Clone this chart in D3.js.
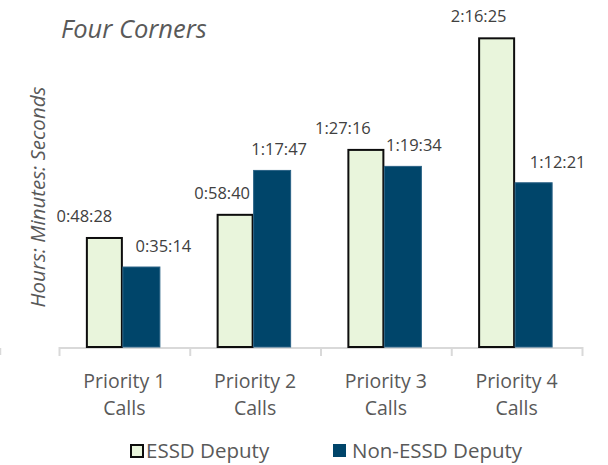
<!DOCTYPE html>
<html>
<head>
<meta charset="utf-8">
<script src="https://cdn.jsdelivr.net/npm/d3@7/dist/d3.min.js"></script>
<style>
  html, body { margin: 0; padding: 0; background: #fff; }
  svg { display: block; font-family: "Open Sans", "Noto Sans", sans-serif; }
</style>
</head>
<body>
<svg id="chart" width="608" height="465"></svg>
<script>
// ---- data ----
const categories = ["Priority 1 Calls", "Priority 2 Calls", "Priority 3 Calls", "Priority 4 Calls"];
const seriesNames = ["ESSD Deputy", "Non-ESSD Deputy"];
const essdDeputy = ["0:48:28", "0:58:40", "1:27:16", "2:16:25"];
const nonEssdDeputy = ["0:35:14", "1:17:47", "1:19:34", "1:12:21"];
const chartTitle = "Four Corners";
const yAxisTitle = "Hours: Minutes: Seconds";

// ---- helpers ----
const toSec = s => s.split(":").reduce((a, v) => a * 60 + (+v), 0);
const seriesValues = [essdDeputy, nonEssdDeputy];

// label nudges (style)
const labelNudge = [[-20, -13, -23, -18], [22, 7, 11, 24]];

const colors = { fill: ["#E9F5DC", "#00456A"], stroke: ["#0d0d0d", "#2a6286"] };
const textColor = "#595959";

const svg = d3.select("#chart");

const x0 = d3.scaleBand().domain(categories).range([59, 582]).padding(0);
const barW = 37;
const x1 = d3.scaleBand().domain(seriesNames)
  .range([x0.bandwidth() / 2 - barW - 1.5, x0.bandwidth() / 2 + barW - 1.5]).padding(0);
const y = d3.scaleLinear().domain([0, 9000]).range([347, 6.5]);

// axis line and boundary ticks
const axisG = svg.append("g");
axisG.append("line")
  .attr("x1", x0.range()[0] + 0.5).attr("x2", x0.range()[1] + 0.5)
  .attr("y1", y(0) + 1).attr("y2", y(0) + 1)
  .attr("stroke", "#d9d9d9").attr("stroke-width", 2);
const bounds = categories.map(c => x0(c)).concat([x0.range()[1]]);
axisG.selectAll("line.tick").data(bounds).join("line")
  .attr("class", "tick")
  .attr("x1", d => d + 0.5).attr("x2", d => d + 0.5)
  .attr("y1", y(0)).attr("y2", y(0) + 9)
  .attr("stroke", "#d9d9d9").attr("stroke-width", 2);
// stray tick at far left edge
axisG.append("line").attr("x1", 0.5).attr("x2", 0.5).attr("y1", y(0) + 1).attr("y2", y(0) + 8)
  .attr("stroke", "#d9d9d9").attr("stroke-width", 1.5);

// bars
const barData = [];
categories.forEach((c, i) => {
  seriesNames.forEach((s, j) => {
    barData.push({ c, s, i, j, label: seriesValues[j][i], v: toSec(seriesValues[j][i]) });
  });
});

svg.append("g").selectAll("rect").data(barData).join("rect")
  .attr("x", d => x0(d.c) + x1(d.s) + (d.j === 0 ? 1 : 0))
  .attr("y", d => y(d.v) + (d.j === 0 ? 1 : 0))
  .attr("width", d => x1.bandwidth() - (d.j === 0 ? 2 : 0))
  .attr("height", d => y(0) - y(d.v) - (d.j === 0 ? 1 : 0))
  .attr("fill", d => colors.fill[d.j])
  .attr("stroke", d => colors.stroke[d.j])
  .attr("stroke-width", d => d.j === 0 ? 2 : 1);

// value labels
svg.append("g").selectAll("text").data(barData).join("text")
  .attr("x", d => x0(d.c) + x1(d.s) + x1.bandwidth() / 2 + labelNudge[d.j][d.i])
  .attr("y", d => y(d.v) - 15)
  .attr("text-anchor", "middle")
  .attr("font-size", 16.5)
  .attr("fill", "#404040")
  .text(d => d.label);

// category labels (two lines)
const catG = svg.append("g");
categories.forEach(c => {
  const words = c.split(" ");
  const t = catG.append("text")
    .attr("x", x0(c) + x0.bandwidth() / 2)
    .attr("y", 388)
    .attr("text-anchor", "middle")
    .attr("font-size", 19.5)
    .attr("fill", textColor);
  t.append("tspan").attr("x", x0(c) + x0.bandwidth() / 2).attr("dy", 0).text(words.slice(0, 2).join(" "));
  t.append("tspan").attr("x", x0(c) + x0.bandwidth() / 2).attr("dy", 27).text(words.slice(2).join(" "));
});

// title
svg.append("text")
  .attr("x", 61).attr("y", 38)
  .attr("font-size", 25.5).attr("font-style", "italic")
  .attr("fill", textColor)
  .text(chartTitle);

// y axis title
svg.append("text")
  .attr("transform", "translate(45,197) rotate(-90)")
  .attr("text-anchor", "middle")
  .attr("font-size", 20.5).attr("font-style", "italic")
  .attr("fill", textColor)
  .text(yAxisTitle);

// legend
const legendX = [130, 333];
const lg = svg.append("g");
seriesNames.forEach((s, j) => {
  const g = lg.append("g").attr("transform", `translate(${legendX[j]},444)`);
  g.append("rect")
    .attr("x", j === 0 ? 1 : 0).attr("y", j === 0 ? 1 : 0)
    .attr("width", j === 0 ? 12 : 13).attr("height", j === 0 ? 12 : 13)
    .attr("fill", colors.fill[j])
    .attr("stroke", j === 0 ? colors.stroke[0] : "none")
    .attr("stroke-width", 2);
  g.append("text")
    .attr("x", j === 0 ? 16 : 19).attr("y", 14)
    .attr("font-size", 20.5)
    .attr("fill", textColor)
    .text(s);
});
</script>
</body>
</html>
